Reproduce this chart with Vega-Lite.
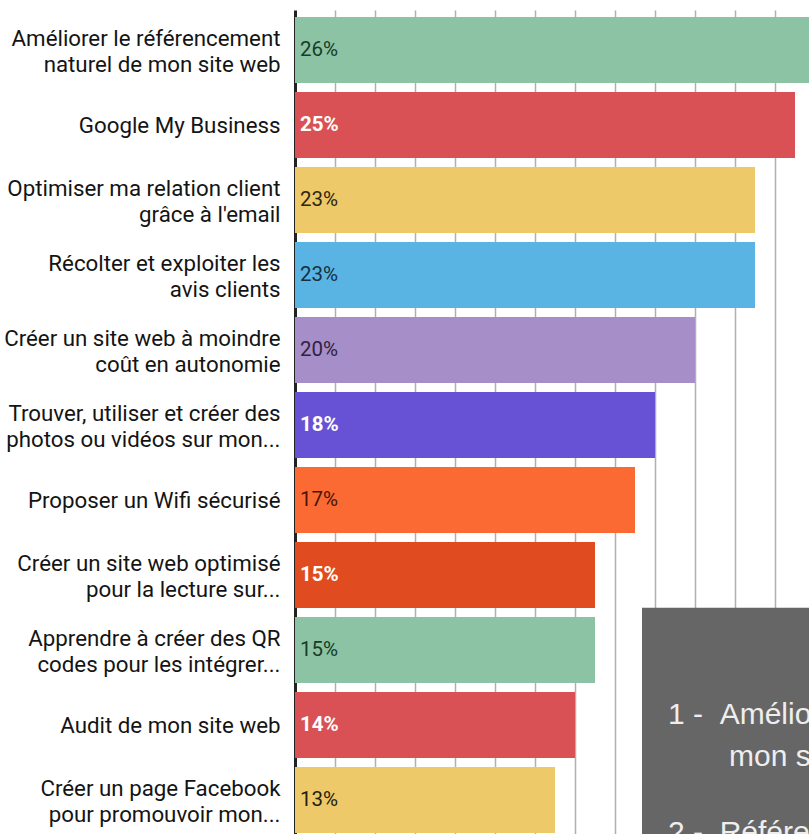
{
  "$schema": "https://vega.github.io/schema/vega-lite/v6.json",
  "width": 514,
  "height": 830,
  "autosize": "none",
  "padding": {"left": 295, "top": 10, "right": 0, "bottom": 0},
  "background": "white",
  "config": {"view": {"stroke": null}, "font": "Roboto"},
  "datasets": {
    "items": [
      {"label": "Améliorer le référencement\nnaturel de mon site web", "value": 0.26},
      {"label": "Google My Business", "value": 0.25},
      {"label": "Optimiser ma relation client\ngrâce à l'email", "value": 0.23},
      {"label": "Récolter et exploiter les\navis clients", "value": 0.23},
      {"label": "Créer un site web à moindre\ncoût en autonomie", "value": 0.20},
      {"label": "Trouver, utiliser et créer des\nphotos ou vidéos sur mon...", "value": 0.18},
      {"label": "Proposer un Wifi sécurisé", "value": 0.17},
      {"label": "Créer un site web optimisé\npour la lecture sur...", "value": 0.15},
      {"label": "Apprendre à créer des QR\ncodes pour les intégrer...", "value": 0.15},
      {"label": "Audit de mon site web", "value": 0.14},
      {"label": "Créer un page Facebook\npour promouvoir mon...", "value": 0.13}
    ],
    "overlay": [
      {"text": "1 -\u00a0\u00a0Améliorer le référencement naturel de", "x": 0.1865, "row": 9.4},
      {"text": "mon site web", "x": 0.217, "row": 9.96},
      {"text": "2 -\u00a0\u00a0Référencement local", "x": 0.1865, "row": 10.98}
    ],
    "box": [
      {"x": 0.1735, "x2": 0.257, "row": 7.97, "row2": 11.1}
    ]
  },
  "layer": [
    {
      "data": {"name": "items"},
      "encoding": {
        "y": {
          "field": "label", "type": "nominal", "sort": null,
          "scale": {"paddingInner": 0.12, "paddingOuter": 0.093},
          "axis": {
            "title": null,
            "labelExpr": "split(datum.label, '\\n')",
            "labelFont": "Roboto", "labelFontSize": 22.3, "labelColor": "#141414",
            "labelLineHeight": 26, "labelPadding": 15, "labelLimit": 300,
            "labelOffset": {"condition": {"test": "indexof(datum.label, '\\n') >= 0", "value": -11}, "value": 1},
            "ticks": false, "grid": false,
            "domain": true, "domainColor": "#222222", "domainWidth": 3
          }
        }
      },
      "layer": [
        {
          "mark": {"type": "bar", "clip": true},
          "encoding": {
            "x": {
              "field": "value", "type": "quantitative",
              "scale": {"domain": [0, 0.257], "nice": false, "zero": true},
              "axis": {
                "title": null, "labels": false, "ticks": false, "domain": false,
                "grid": true, "gridColor": "#b0b0b0", "gridWidth": 1.5,
                "values": [0.02, 0.04, 0.06, 0.08, 0.10, 0.12, 0.14, 0.16, 0.18, 0.20, 0.22, 0.24]
              }
            },
            "color": {
              "field": "label", "type": "nominal", "legend": null,
              "scale": {
                "domain": [
                  "Améliorer le référencement\nnaturel de mon site web",
                  "Google My Business",
                  "Optimiser ma relation client\ngrâce à l'email",
                  "Récolter et exploiter les\navis clients",
                  "Créer un site web à moindre\ncoût en autonomie",
                  "Trouver, utiliser et créer des\nphotos ou vidéos sur mon...",
                  "Proposer un Wifi sécurisé",
                  "Créer un site web optimisé\npour la lecture sur...",
                  "Apprendre à créer des QR\ncodes pour les intégrer...",
                  "Audit de mon site web",
                  "Créer un page Facebook\npour promouvoir mon..."
                ],
                "range": ["#8cc3a4", "#d95155", "#edc96a", "#5ab4e3", "#a68ec8", "#6752d6", "#fb6a33", "#e04c20", "#8cc3a4", "#d95155", "#edc96a"]
              }
            }
          }
        },
        {
          "transform": [{"filter": {"field": "label", "oneOf": [
            "Améliorer le référencement\nnaturel de mon site web",
            "Optimiser ma relation client\ngrâce à l'email",
            "Récolter et exploiter les\navis clients",
            "Créer un site web à moindre\ncoût en autonomie",
            "Proposer un Wifi sécurisé",
            "Apprendre à créer des QR\ncodes pour les intégrer...",
            "Créer un page Facebook\npour promouvoir mon..."
          ]}}],
          "mark": {"type": "text", "align": "left", "baseline": "middle", "dx": 5, "font": "Roboto", "fontSize": 20.5},
          "encoding": {
            "x": {"datum": 0, "type": "quantitative", "scale": {"domain": [0, 0.257], "nice": false}},
            "text": {"field": "value", "type": "quantitative", "format": ".0%"},
            "color": {
              "field": "label", "type": "nominal", "legend": null,
              "scale": {
                "domain": [
                  "Améliorer le référencement\nnaturel de mon site web",
                  "Optimiser ma relation client\ngrâce à l'email",
                  "Récolter et exploiter les\navis clients",
                  "Créer un site web à moindre\ncoût en autonomie",
                  "Proposer un Wifi sécurisé",
                  "Apprendre à créer des QR\ncodes pour les intégrer...",
                  "Créer un page Facebook\npour promouvoir mon..."
                ],
                "range": ["#163d28", "#2e2710", "#16303f", "#2f2340", "#4a1406", "#163d28", "#241e0c"]
              }
            }
          }
        },
        {
          "transform": [{"filter": {"field": "label", "oneOf": [
            "Google My Business",
            "Trouver, utiliser et créer des\nphotos ou vidéos sur mon...",
            "Créer un site web optimisé\npour la lecture sur...",
            "Audit de mon site web"
          ]}}],
          "mark": {"type": "text", "align": "left", "baseline": "middle", "dx": 5, "font": "Roboto", "fontSize": 20.5, "fontWeight": "bold", "color": "#ffffff"},
          "encoding": {
            "x": {"datum": 0, "type": "quantitative", "scale": {"domain": [0, 0.257], "nice": false}},
            "text": {"field": "value", "type": "quantitative", "format": ".0%"}
          }
        }
      ],
      "resolve": {"scale": {"color": "independent"}}
    },
    {
      "data": {"name": "box"},
      "mark": {"type": "rect", "color": "#666666", "clip": true},
      "encoding": {
        "x": {"field": "x", "type": "quantitative", "scale": {"domain": [0, 0.257], "nice": false}},
        "x2": {"field": "x2"},
        "y": {"field": "row", "type": "quantitative", "scale": {"domain": [0, 11.067], "reverse": true, "nice": false, "zero": false}, "axis": null},
        "y2": {"field": "row2"}
      }
    },
    {
      "data": {"name": "overlay"},
      "mark": {"type": "text", "align": "left", "baseline": "middle", "font": "Liberation Sans", "fontSize": 30, "color": "#eeeeee", "clip": true},
      "encoding": {
        "x": {"field": "x", "type": "quantitative", "scale": {"domain": [0, 0.257], "nice": false}},
        "y": {"field": "row", "type": "quantitative", "scale": {"domain": [0, 11.067], "reverse": true, "nice": false, "zero": false}, "axis": null},
        "text": {"field": "text", "type": "nominal"}
      }
    }
  ],
  "resolve": {"scale": {"y": "independent", "color": "independent"}}
}
